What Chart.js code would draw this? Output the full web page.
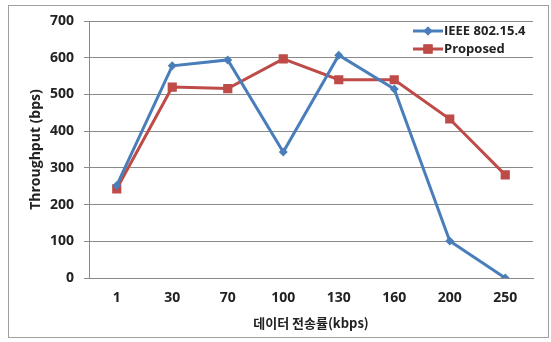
<!DOCTYPE html>
<html>
<head>
<meta charset="utf-8">
<script src="https://cdn.jsdelivr.net/npm/chart.js@4/dist/chart.umd.min.js"></script>
<style>
html,body{margin:0;padding:0;background:#fff;}
#wrap{width:551px;height:342px;position:relative;}
</style>
</head>
<body>
<div id="wrap"><canvas id="c" width="551" height="342"></canvas></div>
<script>
const categories = ['1','30','70','100','130','160','200','250'];
const ieeeValues = [252, 578, 594, 343, 607, 515, 101, 0];
const proposedValues = [243, 520, 516, 597, 540, 540, 433, 281];
const seriesNames = ['IEEE 802.15.4', 'Proposed'];
const yTitle = 'Throughput (bps)';
const xTitle = '데이터 전송률(kbps)';

const blue = '#4a7ebb';
const red = '#be4b48';
const textColor = '#222222';
const gridColor = '#8a8a8a';

const frame = {
  id: 'frame',
  beforeDraw(chart) {
    const ctx = chart.ctx;
    ctx.save();
    ctx.fillStyle = '#fff';
    ctx.fillRect(0, 0, chart.width, chart.height);
    ctx.strokeStyle = '#a0a0a0';
    ctx.lineWidth = 1;
    ctx.strokeRect(8.5, 5.5, 540, 332);
    ctx.restore();
  },
  afterDraw(chart) {
    const ctx = chart.ctx;
    const items = [
      {name: seriesNames[0], color: blue, style: 'rectRot', r: 4.5, y: 31},
      {name: seriesNames[1], color: red, style: 'rect', r: 6.5, y: 49}
    ];
    ctx.save();
    items.forEach(it => {
      ctx.strokeStyle = it.color;
      ctx.lineWidth = 3;
      ctx.beginPath();
      ctx.moveTo(413, it.y);
      ctx.lineTo(443, it.y);
      ctx.stroke();
      ctx.fillStyle = it.color;
      Chart.helpers.drawPoint(ctx, {pointStyle: it.style, rotation: 0, borderWidth: 0, radius: it.r}, 428, it.y);
      ctx.fill();
      ctx.fillStyle = textColor;
      ctx.font = 'bold 13px "Open Sans"';
      ctx.textBaseline = 'middle';
      ctx.textAlign = 'left';
      ctx.fillText(it.name, 444, it.y);
    });
    ctx.restore();
  }
};

new Chart(document.getElementById('c'), {
  type: 'line',
  data: {
    labels: categories,
    datasets: [
      {
        label: seriesNames[0], data: ieeeValues,
        borderColor: blue, backgroundColor: blue, borderWidth: 3,
        pointStyle: 'rectRot', pointRadius: 4.5, pointBorderWidth: 0,
        pointBackgroundColor: blue, tension: 0
      },
      {
        label: seriesNames[1], data: proposedValues,
        borderColor: red, backgroundColor: red, borderWidth: 3,
        pointStyle: 'rect', pointRadius: 6.5, pointBorderWidth: 0,
        pointBackgroundColor: red, tension: 0
      }
    ]
  },
  options: {
    responsive: false,
    animation: false,
    layout: {padding: {left: 25, right: 18, top: 21, bottom: 7}},
    plugins: {legend: {display: false}, tooltip: {enabled: false}},
    scales: {
      x: {
        offset: true,
        grid: {display: false, drawTicks: false},
        border: {display: true, color: gridColor, width: 1},
        ticks: {color: textColor, font: {family: '"Open Sans"', size: 14, weight: 'bold'}, padding: 12, maxRotation: 0},
        title: {display: true, text: xTitle, color: textColor, font: {family: '"Noto Sans CJK KR"', size: 13, weight: 'bold'}, padding: {top: 4, bottom: 4}},
        afterFit(s) { s.height = 57; }
      },
      y: {
        min: 0, max: 700,
        ticks: {stepSize: 100, color: textColor, font: {family: '"Open Sans"', size: 14, weight: 'bold'}, padding: 10},
        grid: {color: gridColor, lineWidth: 1, tickLength: 5, drawTicks: true},
        border: {display: true, color: gridColor, width: 1},
        title: {display: true, text: yTitle, color: textColor, font: {family: '"Open Sans"', size: 14, weight: 'bold'}, padding: {top: 3, bottom: 4}},
        afterFit(s) { s.width = 64; }
      }
    }
  },
  plugins: [frame]
});
</script>
</body>
</html>
